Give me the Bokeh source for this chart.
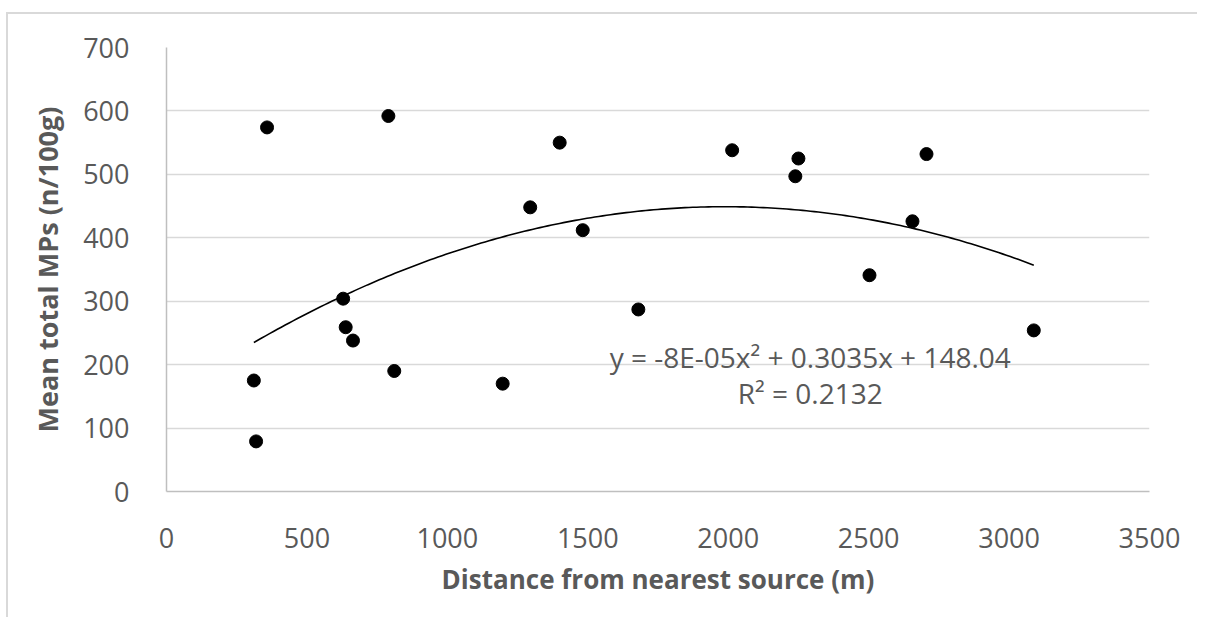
import numpy as np
from bokeh.plotting import figure
from bokeh.models import ColumnDataSource, Label, FixedTicker, Range1d
from bokeh.embed import file_html
from bokeh.resources import INLINE

# distance from nearest source (m)
distance = [358, 790, 1400, 1295, 1482, 629, 638, 664, 1680, 311, 811, 1197, 319,
            2014, 2250, 2239, 2706, 2656, 2503, 3088]
# mean total MPs (n/100g)
mps = [574, 592, 550, 448, 412, 304, 259, 238, 287, 175, 190, 170, 79,
       538, 525, 497, 532, 426, 341, 254]

x_ticks = [0, 500, 1000, 1500, 2000, 2500, 3000, 3500]
y_ticks = [0, 100, 200, 300, 400, 500, 600, 700]
equation = "y = -8E-05x\u00b2 + 0.3035x + 148.04"
r2_text = "R\u00b2 = 0.2132"

FONT = "Open Sans"
GREY = "#595959"

p = figure(width=1197, height=603, output_backend="svg", toolbar_location=None,
           x_range=Range1d(0, 3500), y_range=Range1d(0, 700),
           min_border_left=158, min_border_right=56, min_border_top=33, min_border_bottom=126)
p.styles = {"position": "relative", "left": "8px", "top": "14px",
            "box-shadow": "-2px 0 0 0 #d9d9d9, 0 -2px 0 0 #d9d9d9, -2px -2px 0 0 #d9d9d9",
            "clip-path": "inset(-4px 8px -4px -4px)"}
p.outline_line_color = None
p.background_fill_color = "white"
p.border_fill_color = "white"

# trendline (2nd order polynomial fit of the data)
coef = np.polyfit(distance, mps, 2)
xs = np.linspace(min(distance), max(distance), 200)
p.line(xs, np.polyval(coef, xs), line_color="black", line_width=1.6)

src = ColumnDataSource(dict(x=distance, y=mps))
p.scatter("x", "y", source=src, size=13, fill_color="black", line_color="black")

for ax in (p.xaxis[0], p.yaxis[0]):
    ax.axis_line_color = "#bfbfbf"
    ax.axis_line_width = 1.5
    ax.major_tick_line_color = None
    ax.minor_tick_line_color = None
    ax.major_label_text_font = FONT
    ax.major_label_text_font_size = "27px"
    ax.major_label_text_color = GREY
    ax.axis_label_text_font = FONT
    ax.axis_label_text_font_style = "bold"
    ax.axis_label_text_color = GREY

p.xaxis.axis_label_text_font_size = "26px"
p.yaxis.axis_label_text_font_size = "27px"
p.xaxis.ticker = FixedTicker(ticks=x_ticks)
p.yaxis.ticker = FixedTicker(ticks=y_ticks)
p.xaxis.axis_label = "Distance from nearest source (m)"
p.yaxis.axis_label = "Mean total MPs (n/100g)"
p.xaxis.major_label_standoff = 30
p.yaxis.major_label_standoff = 31
p.xaxis.axis_label_standoff = 10
p.yaxis.axis_label_standoff = 14

p.xgrid.grid_line_color = None
p.ygrid.grid_line_color = "#d9d9d9"
p.ygrid.grid_line_width = 1.5

p.add_layout(Label(x=2292, y=212, text=equation, text_align="center", text_baseline="middle",
                   text_font=FONT, text_font_size="28px", text_color=GREY))
p.add_layout(Label(x=2292, y=156, text=r2_text, text_align="center", text_baseline="middle",
                   text_font=FONT, text_font_size="28px", text_color=GREY))

open("out.html", "w").write(file_html(p, INLINE))
